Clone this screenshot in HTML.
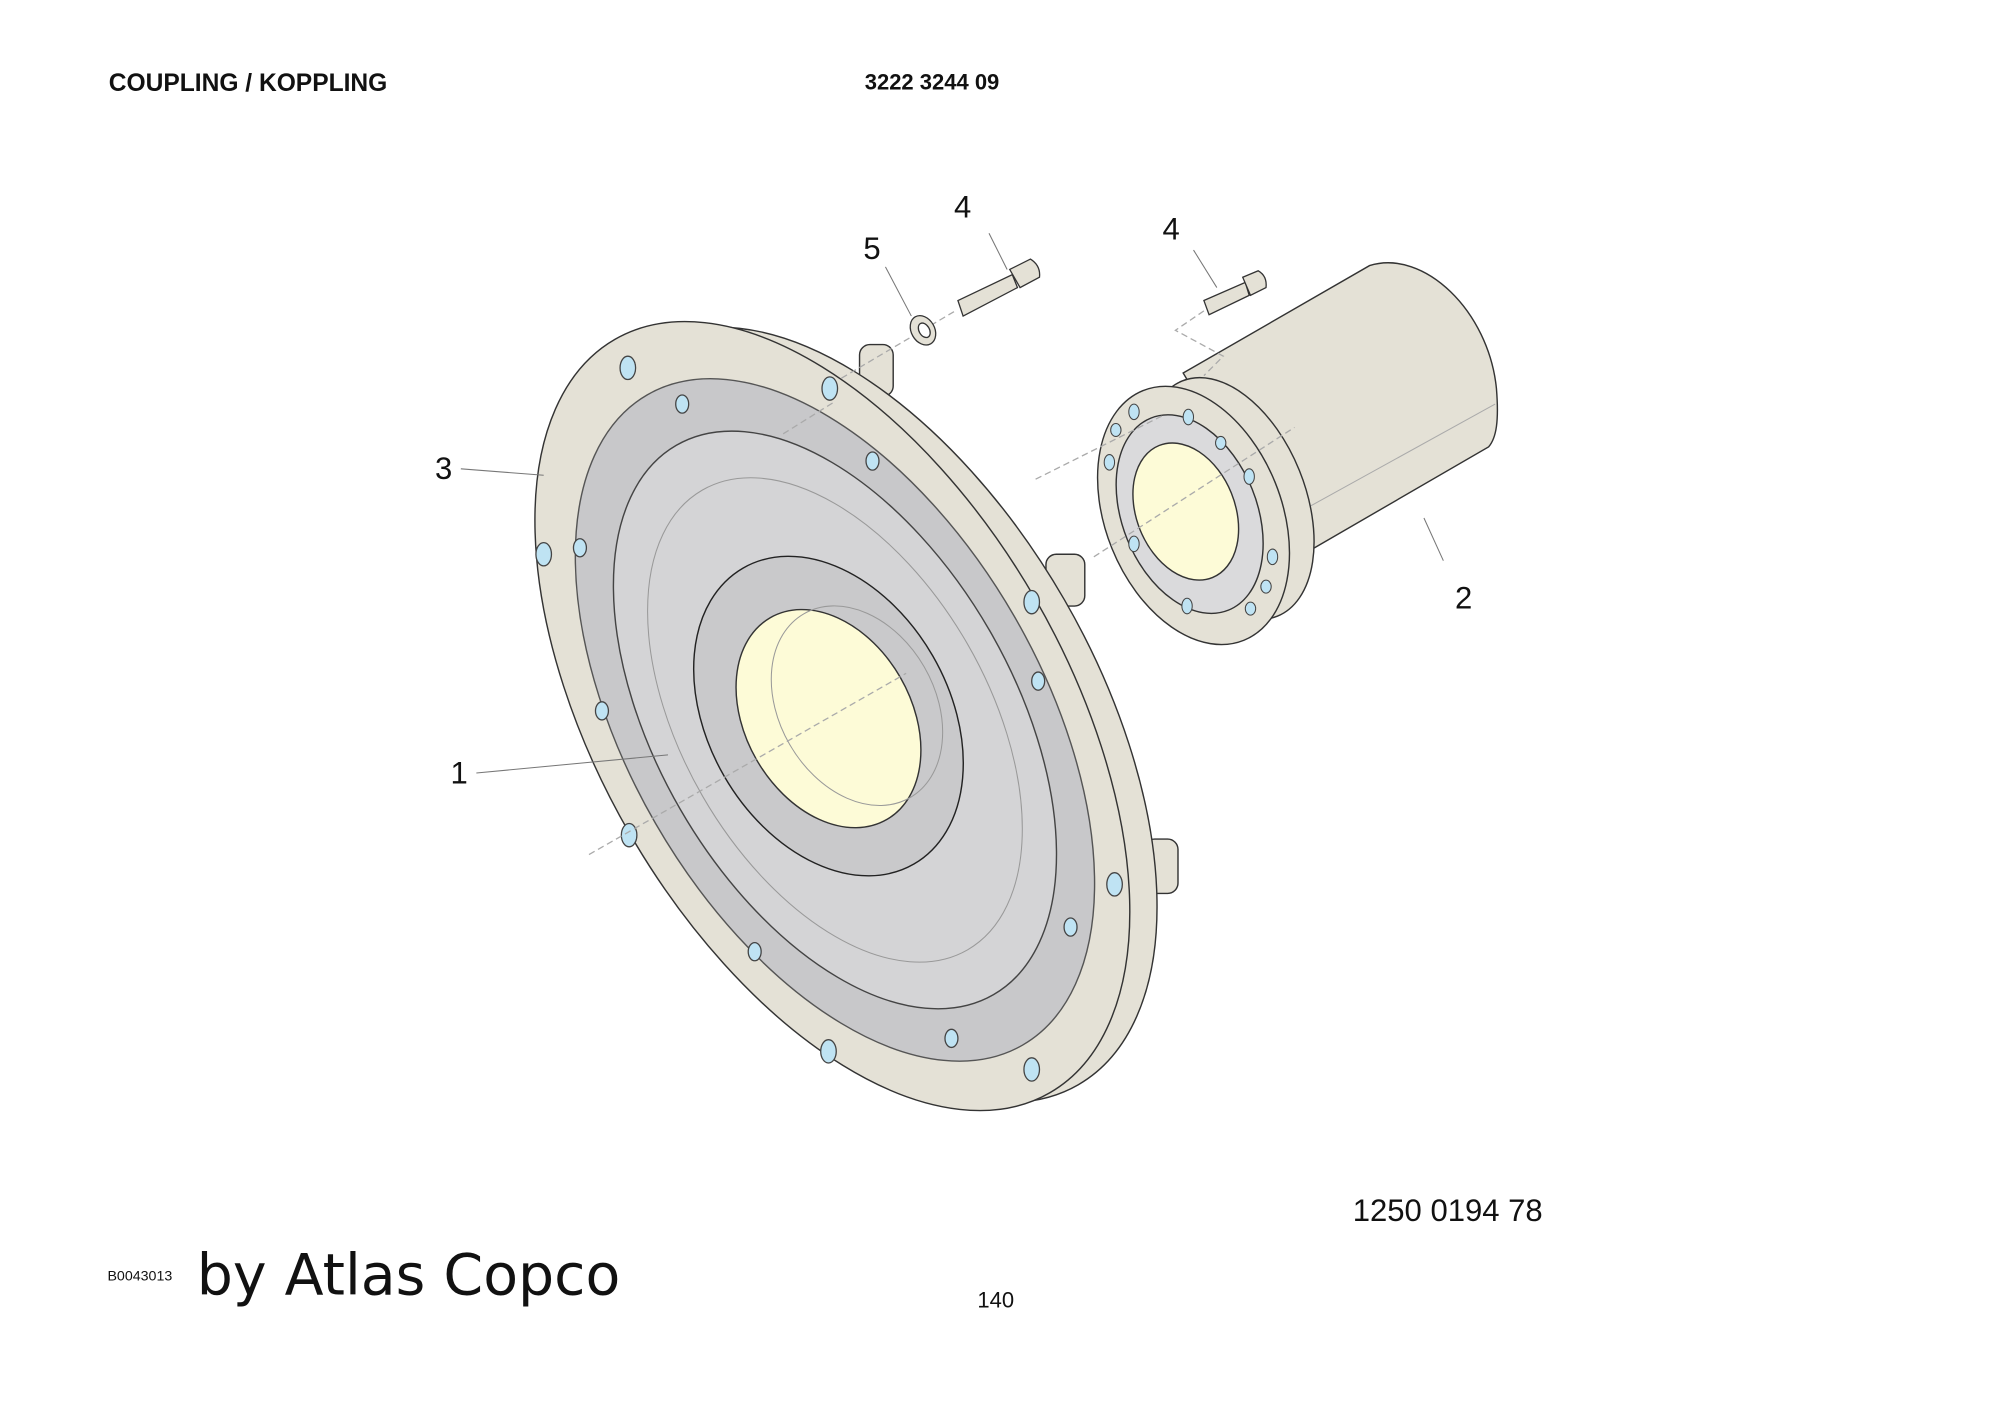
<!DOCTYPE html>
<html><head><meta charset="utf-8"><style>
html,body{margin:0;padding:0;background:#fff}
svg{display:block}
text{font-family:"Liberation Sans",Arial,sans-serif;fill:#111}
</style></head><body>
<svg width="2000" height="1414" viewBox="0 0 1545 1092" xmlns="http://www.w3.org/2000/svg">
<rect width="1545" height="1092" fill="#fff"/>
<text x="84" y="70" font-size="19" font-weight="bold">COUPLING / KOPPLING</text>
<text x="668" y="69" font-size="17" font-weight="bold">3222 3244 09</text>

<g stroke="#333" stroke-width="1.1">
<rect x="664" y="266" width="26" height="40" rx="8" fill="#e4e1d6"/>
<rect x="808" y="428" width="30" height="40" rx="8" fill="#e4e1d6"/>
<rect x="884" y="648" width="26" height="42" rx="8" fill="#e4e1d6"/>
<ellipse cx="668" cy="552" rx="330" ry="178" transform="rotate(60 668 552)" fill="#e4e1d6"/>
<ellipse cx="643" cy="553" rx="336" ry="181" transform="rotate(60 643 553)" fill="#e4e1d6"/>
<ellipse cx="645" cy="556" rx="290" ry="160" transform="rotate(60 645 556)" fill="#c8c8ca" stroke="#555"/>
<ellipse cx="645" cy="556" rx="245" ry="138" transform="rotate(60 645 556)" fill="#d4d4d6" stroke="#444"/>
<ellipse cx="640" cy="553" rx="132" ry="93" transform="rotate(60 640 553)" fill="#c9c9cb" stroke="#222"/>
<ellipse cx="640" cy="555" rx="90" ry="64" transform="rotate(60 640 555)" fill="#fdfbd7" stroke="#333"/>
</g>
<g fill="none" stroke="#999" stroke-width="0.8">
<ellipse cx="645" cy="556" rx="205" ry="118" transform="rotate(60 645 556)"/>
<ellipse cx="662" cy="545" rx="82" ry="60" transform="rotate(60 662 545)"/>
</g>
<g fill="#bfe3f3" stroke="#444" stroke-width="1">
<ellipse cx="485" cy="284" rx="6" ry="9"/><ellipse cx="641" cy="300" rx="6" ry="9"/>
<ellipse cx="420" cy="428" rx="6" ry="9"/><ellipse cx="797" cy="465" rx="6" ry="9"/>
<ellipse cx="486" cy="645" rx="6" ry="9"/><ellipse cx="861" cy="683" rx="6" ry="9"/>
<ellipse cx="640" cy="812" rx="6" ry="9"/><ellipse cx="797" cy="826" rx="6" ry="9"/>
<ellipse cx="527" cy="312" rx="5" ry="7"/><ellipse cx="674" cy="356" rx="5" ry="7"/>
<ellipse cx="448" cy="423" rx="5" ry="7"/><ellipse cx="802" cy="526" rx="5" ry="7"/>
<ellipse cx="465" cy="549" rx="5" ry="7"/><ellipse cx="827" cy="716" rx="5" ry="7"/>
<ellipse cx="583" cy="735" rx="5" ry="7"/><ellipse cx="735" cy="802" rx="5" ry="7"/>
</g>

<g stroke="#333" stroke-width="1.1">
<path d="M914 288 L1058 205 C1100 192 1150 240 1156 300 C1158 325 1156 338 1150 345 L1000 432 Z" fill="#e4e1d6"/>
<path d="M1010 392 L1155 312" stroke="#aaa" stroke-width="0.8" fill="none"/>
<ellipse cx="950" cy="385" rx="58" ry="98" transform="rotate(-22 950 385)" fill="#e4e1d6"/>
<ellipse cx="922" cy="398" rx="68" ry="104" transform="rotate(-22 922 398)" fill="#e4e1d6"/>
<ellipse cx="919" cy="397" rx="52" ry="80" transform="rotate(-22 919 397)" fill="#dadadc"/>
<ellipse cx="916" cy="395" rx="38" ry="55" transform="rotate(-22 916 395)" fill="#fdfbd7"/>
</g>
<g fill="#bfe3f3" stroke="#444" stroke-width="0.8">
<ellipse cx="876" cy="318" rx="4" ry="6"/><ellipse cx="918" cy="322" rx="4" ry="6"/>
<ellipse cx="862" cy="332" rx="4" ry="5"/><ellipse cx="857" cy="357" rx="4" ry="6"/>
<ellipse cx="943" cy="342" rx="4" ry="5"/><ellipse cx="965" cy="368" rx="4" ry="6"/>
<ellipse cx="876" cy="420" rx="4" ry="6"/><ellipse cx="983" cy="430" rx="4" ry="6"/>
<ellipse cx="978" cy="453" rx="4" ry="5"/><ellipse cx="917" cy="468" rx="4" ry="6"/>
<ellipse cx="966" cy="470" rx="4" ry="5"/>
</g>

<g stroke="#aaa" stroke-width="1" stroke-dasharray="5 3" fill="none">
<path d="M455 660 L700 520"/><path d="M605 335 L645 310"/>
<path d="M650 292 L738 240"/><path d="M800 370 L900 320"/>
<path d="M845 430 L1000 330"/><path d="M930 240 L908 255 L945 275 L930 290"/>
</g>

<g stroke="#333" stroke-width="1" fill="#e4e1d6">
<path d="M740 232 L782 212 L786 222 L744 244 Z"/>
<path d="M780 208 L796 200 Q804 205 803 214 L788 222 Z"/>
<path d="M930 232 L962 218 L965 228 L934 243 Z"/>
<path d="M960 214 L972 209 Q979 213 978 222 L966 228 Z"/>
<ellipse cx="713" cy="255" rx="9" ry="12" transform="rotate(-30 713 255)"/>
<ellipse cx="714" cy="255" rx="4" ry="6" transform="rotate(-30 714 255)" fill="#fff"/>
</g>

<g stroke="#777" stroke-width="0.8">
<path d="M356 362 L420 367"/><path d="M368 597 L516 583"/>
<path d="M1100 400 L1115 433"/><path d="M764 180 L778 208"/>
<path d="M684 206 L704 244"/><path d="M922 193 L940 222"/>
</g>
<g font-size="24">
<text x="336" y="370">3</text><text x="348" y="605">1</text>
<text x="1124" y="470">2</text><text x="737" y="168">4</text>
<text x="898" y="185">4</text><text x="667" y="200">5</text>
</g>

<text x="1045" y="943" font-size="24">1250 0194 78</text>
<text x="83" y="989" font-size="11">B0043013</text>
<text x="152" y="1000" font-size="44" style="font-family:'DejaVu Sans','Liberation Sans',sans-serif">by Atlas Copco</text>
<text x="755" y="1010" font-size="17">140</text>
</svg>
</body></html>
